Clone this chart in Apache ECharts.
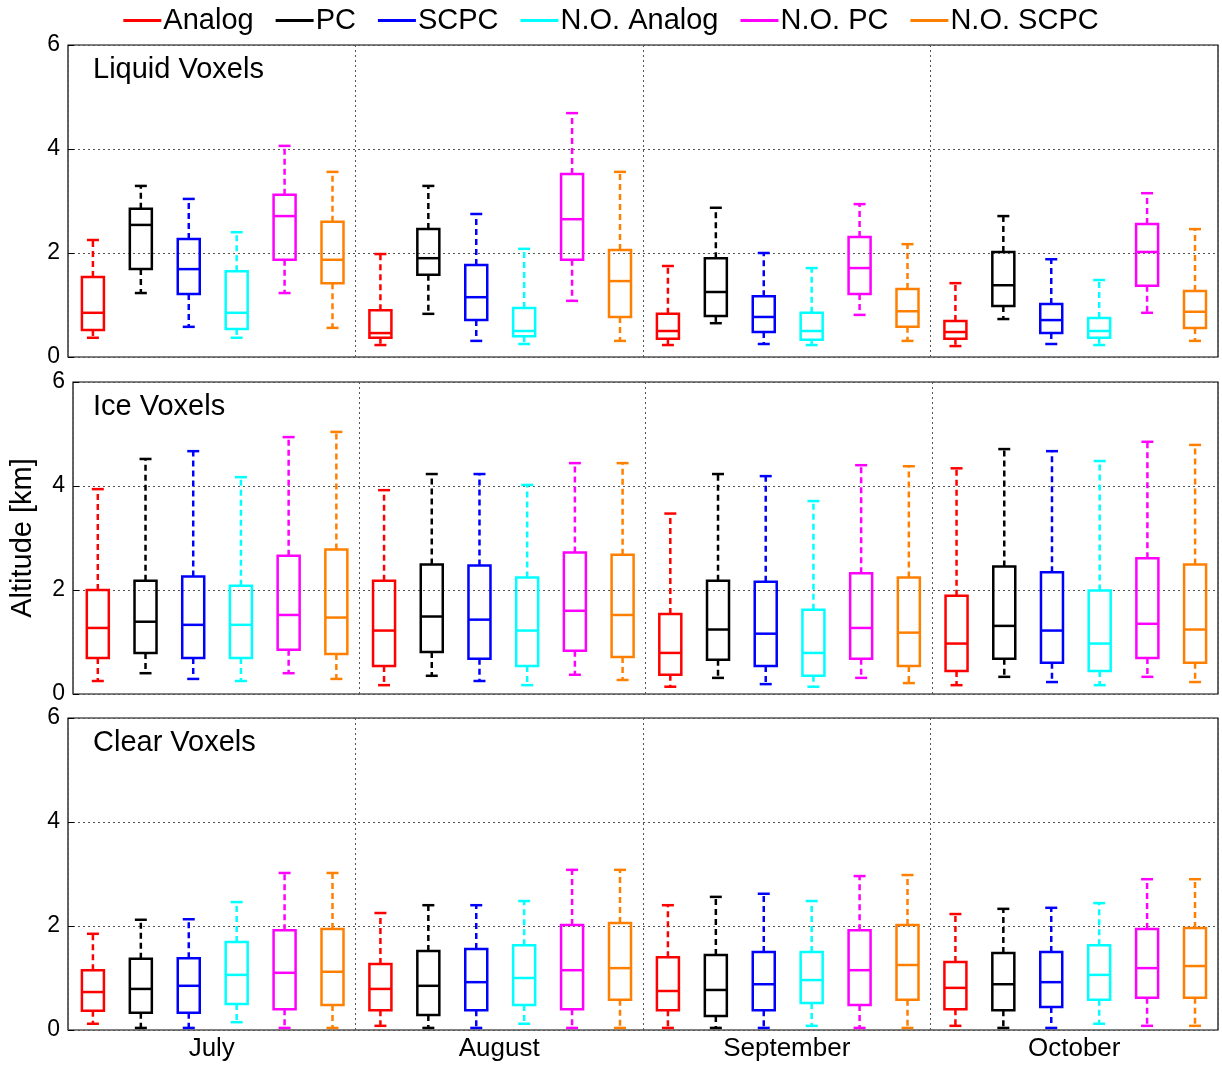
<!DOCTYPE html>
<html>
<head>
<meta charset="utf-8">
<title>Voxel altitude</title>
<script src="https://cdn.jsdelivr.net/npm/echarts@6/dist/echarts.min.js"></script>
<style>
    body { margin: 0; background: #fff; }
    #chart { width: 1222px; height: 1068px; }
</style>
</head>
<body>
<div id="chart"></div>
<script>
var months = ['July', 'August', 'September', 'October'];
var seriesNames = ['Analog', 'PC', 'SCPC', 'N.O. Analog', 'N.O. PC', 'N.O. SCPC'];
var colors = ['#ff0000', '#000000', '#0000ff', '#00ffff', '#ff00ff', '#ff8000'];
var panelTitles = ['Liquid Voxels', 'Ice Voxels', 'Clear Voxels'];

// [min, q1, median, q3, max] per month, per series
var liquid = [
    [[0.37,0.52,0.85,1.54,2.25],[1.23,1.69,2.54,2.85,3.29],[0.58,1.21,1.69,2.27,3.04],[0.37,0.54,0.85,1.65,2.4],[1.23,1.87,2.71,3.12,4.06],[0.56,1.42,1.87,2.6,3.56]],
    [[0.23,0.37,0.46,0.9,1.98],[0.83,1.58,1.9,2.46,3.29],[0.31,0.71,1.15,1.77,2.75],[0.25,0.4,0.5,0.94,2.08],[1.08,1.87,2.65,3.52,4.69],[0.31,0.77,1.46,2.06,3.56]],
    [[0.23,0.35,0.5,0.83,1.75],[0.65,0.79,1.25,1.9,2.87],[0.25,0.48,0.77,1.17,2.0],[0.23,0.33,0.5,0.85,1.71],[0.81,1.21,1.71,2.31,2.94],[0.31,0.58,0.88,1.31,2.17]],
    [[0.21,0.35,0.48,0.69,1.42],[0.73,0.98,1.38,2.02,2.71],[0.25,0.46,0.71,1.02,1.88],[0.23,0.37,0.5,0.75,1.48],[0.85,1.37,2.02,2.56,3.15],[0.31,0.56,0.87,1.27,2.46]]
];
var ice = [
    [[0.25,0.69,1.27,2.0,3.94],[0.4,0.79,1.39,2.18,4.52],[0.29,0.69,1.33,2.26,4.67],[0.25,0.69,1.33,2.08,4.17],[0.4,0.85,1.52,2.66,4.94],[0.29,0.77,1.47,2.78,5.04]],
    [[0.17,0.54,1.22,2.18,3.92],[0.35,0.81,1.49,2.49,4.23],[0.25,0.68,1.43,2.47,4.23],[0.17,0.54,1.22,2.24,4.02],[0.37,0.83,1.6,2.72,4.44],[0.27,0.71,1.52,2.68,4.44]],
    [[0.14,0.37,0.79,1.54,3.47],[0.31,0.66,1.24,2.18,4.23],[0.19,0.54,1.16,2.16,4.19],[0.14,0.35,0.79,1.62,3.71],[0.31,0.68,1.27,2.32,4.4],[0.21,0.54,1.18,2.24,4.38]],
    [[0.17,0.44,0.97,1.89,4.34],[0.33,0.68,1.31,2.45,4.71],[0.23,0.6,1.22,2.34,4.67],[0.17,0.44,0.97,1.99,4.48],[0.33,0.69,1.35,2.61,4.85],[0.23,0.6,1.24,2.49,4.79]]
];
var clear = [
    [[0.12,0.37,0.73,1.15,1.85],[0.04,0.33,0.79,1.37,2.12],[0.04,0.33,0.85,1.38,2.13],[0.15,0.5,1.06,1.69,2.46],[0.04,0.4,1.1,1.92,3.02],[0.04,0.48,1.12,1.94,3.02]],
    [[0.08,0.38,0.79,1.27,2.25],[0.04,0.29,0.85,1.52,2.4],[0.04,0.38,0.92,1.56,2.4],[0.12,0.48,1.0,1.63,2.48],[0.04,0.4,1.15,2.02,3.08],[0.04,0.58,1.19,2.06,3.08]],
    [[0.04,0.38,0.75,1.4,2.4],[0.04,0.27,0.77,1.44,2.56],[0.04,0.38,0.88,1.5,2.62],[0.08,0.52,0.96,1.5,2.48],[0.04,0.48,1.15,1.92,2.96],[0.04,0.58,1.25,2.02,2.98]],
    [[0.08,0.4,0.81,1.31,2.23],[0.04,0.38,0.88,1.48,2.33],[0.04,0.44,0.92,1.5,2.35],[0.12,0.58,1.06,1.63,2.44],[0.08,0.62,1.19,1.94,2.9],[0.08,0.62,1.23,1.96,2.9]]
];
var panels = [liquid, ice, clear];

var gridTops = [45, 382, 718];
var grids = [], xAxes = [], yAxes = [], series = [], graphics = [];
var font = 'Liberation Sans';

gridTops.forEach(function (top, p) {
    grids.push({ left: 68, right: 4, top: top, height: 312, show: true, borderColor: '#000', borderWidth: 1.2 });
    xAxes.push({
        type: 'value', gridIndex: p, min: 0, max: 4, interval: 1,
        axisLabel: { show: false }, axisTick: { show: false }, axisLine: { show: false },
        splitLine: { lineStyle: { type: [2, 3], color: '#555' } }
    });
    yAxes.push({
        type: 'value', gridIndex: p, min: 0, max: 6, interval: 2,
        name: p === 1 ? 'Altitude [km]' : '', nameLocation: 'middle', nameGap: 36,
        nameTextStyle: { fontSize: 29, color: '#000', fontFamily: font },
        axisLabel: { fontSize: 23, color: '#000', fontFamily: font },
        axisTick: { inside: true, length: 6, lineStyle: { color: '#000' } },
        axisLine: { show: false },
        splitLine: { lineStyle: { type: [2, 3], color: '#555' } }
    });
    graphics.push({
        type: 'text', left: 93, top: top + 10,
        style: { text: panelTitles[p], fontSize: 29, fill: '#000', fontFamily: font }
    });
    seriesNames.forEach(function (name, s) {
        var data = [];
        for (var m = 0; m < 4; m++) {
            data.push([m + (s + 0.52) / 6].concat(panels[p][m][s]));
        }
        series.push({
            type: 'custom', name: name, xAxisIndex: p, yAxisIndex: p,
            itemStyle: { color: colors[s] },
            encode: { x: 0, y: [1, 5] },
            data: data,
            renderItem: function (params, api) {
                var x = api.value(0);
                var pt = function (v) { return api.coord([x, api.value(v)]); };
                var lo = pt(1), q1 = pt(2), md = pt(3), q3 = pt(4), hi = pt(5);
                var cx = lo[0], hw = 11, cw = 6;
                var solid = { stroke: colors[s], lineWidth: 2.5, fill: null };
                var dash = { stroke: colors[s], lineWidth: 2.5, lineDash: [6, 4] };
                return {
                    type: 'group',
                    children: [
                        { type: 'line', shape: { x1: cx, y1: q3[1], x2: cx, y2: hi[1] }, style: dash },
                        { type: 'line', shape: { x1: cx, y1: q1[1], x2: cx, y2: lo[1] }, style: dash },
                        { type: 'line', shape: { x1: cx - cw, y1: hi[1], x2: cx + cw, y2: hi[1] }, style: solid },
                        { type: 'line', shape: { x1: cx - cw, y1: lo[1], x2: cx + cw, y2: lo[1] }, style: solid },
                        { type: 'rect', shape: { x: cx - hw, y: q3[1], width: 2 * hw, height: q1[1] - q3[1] }, style: solid },
                        { type: 'line', shape: { x1: cx - hw, y1: md[1], x2: cx + hw, y2: md[1] }, style: solid }
                    ]
                };
            }
        });
    });
});

// month labels under the bottom panel
months.forEach(function (m, i) {
    graphics.push({
        type: 'text', x: 68 + 287.5 * (i + 0.5), y: 1036,
        style: { text: m, fontSize: 26, fill: '#000', fontFamily: font, align: 'center', verticalAlign: 'top' }
    });
});

var chart = echarts.init(document.getElementById('chart'));
chart.setOption({
    animation: false,
    legend: {
        top: 1, left: 'center', itemGap: 22, itemWidth: 38, itemHeight: 3,
        icon: 'rect',
        textStyle: { fontSize: 29, color: '#000', fontFamily: font, padding: [0, 0, 0, -3] },
        data: seriesNames.map(function (n, i) { return { name: n, itemStyle: { color: colors[i] } }; })
    },
    grid: grids, xAxis: xAxes, yAxis: yAxes, series: series, graphic: graphics
});
</script>
</body>
</html>
